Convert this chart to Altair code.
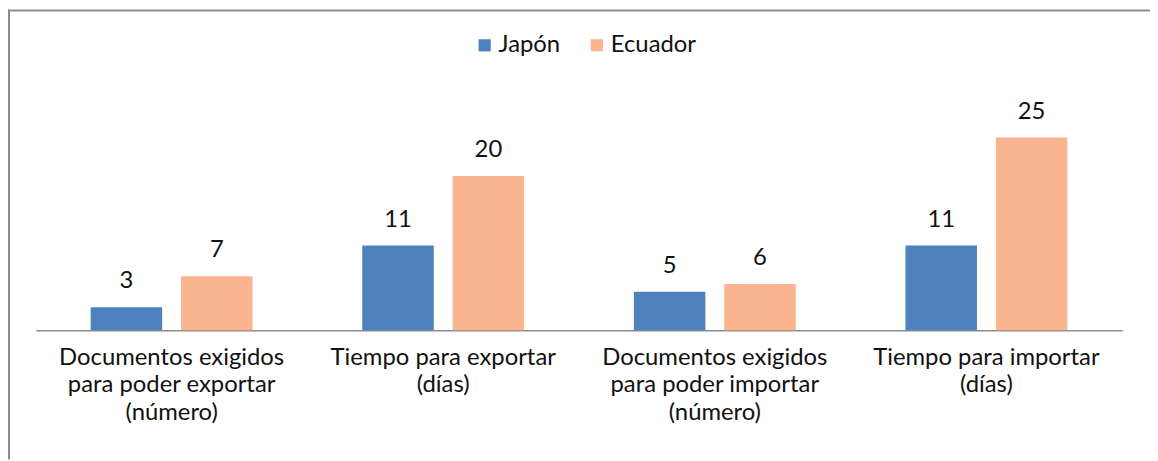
import altair as alt
import pandas as pd

categories = [
    "Documentos exigidos\npara poder exportar\n(número)",
    "Tiempo para exportar\n(días)",
    "Documentos exigidos\npara poder importar\n(número)",
    "Tiempo para importar\n(días)",
]
series = ["Japón", "Ecuador"]
japon = [3, 11, 5, 11]
ecuador = [7, 20, 6, 25]
colors = ["#4F81BD", "#F9B58F"]

rows = []
for c, j, e in zip(categories, japon, ecuador):
    rows.append({"cat": c, "serie": "Japón", "valor": j})
    rows.append({"cat": c, "serie": "Ecuador", "valor": e})
df = pd.DataFrame(rows)

FONT = "Lato"
W, H = 1094, 272

base = alt.Chart(df).encode(
    x=alt.X("cat:N", sort=categories,
            scale=alt.Scale(paddingInner=0, paddingOuter=0),
            axis=alt.Axis(title=None, labelAngle=0, ticks=False,
                          domainColor="#8c8c8c", domainWidth=1.5,
                          labelFont=FONT, labelFontSize=24, labelColor="#111111",
                          labelPadding=34, labelLineHeight=28, labelLimit=0,
                          labelBaseline="alphabetic",
                          labelExpr="split(datum.label, '\\n')")),
    xOffset=alt.XOffset("serie:N", sort=series,
                        scale=alt.Scale(paddingInner=0.209, paddingOuter=0.607)),
    y=alt.Y("valor:Q", scale=alt.Scale(domain=[0, 35]), axis=None),
)

bars = base.mark_bar().encode(
    color=alt.Color("serie:N", sort=series,
                    scale=alt.Scale(domain=series, range=colors),
                    legend=alt.Legend(title=None, orient="none", direction="horizontal",
                                      legendX=440, legendY=-27,
                                      symbolType="square", symbolSize=150,
                                      symbolStrokeWidth=0,
                                      labelFont=FONT, labelFontSize=24,
                                      labelColor="#111111", columnPadding=24,
                                      labelOffset=2)),
)

labels = base.mark_text(baseline="bottom", dy=-14, font=FONT, fontSize=24,
                        color="#111111").encode(text="valor:Q")

frame = alt.Chart(alt.Data(values=[{}]))
left_line = frame.mark_rule(color="#8c8c8c", strokeWidth=2).encode(
    x=alt.value(-27), y=alt.value(-51), y2=alt.value(H + 130))
top_line = frame.mark_rule(color="#8c8c8c", strokeWidth=2).encode(
    y=alt.value(-50), x=alt.value(-28), x2=alt.value(W + 28))

chart = alt.layer(bars, labels, left_line, top_line).properties(
    width=W, height=H,
    background="white",
    autosize=alt.AutoSizeParams(type="none"),
    padding={"left": 28, "top": 51, "right": 28, "bottom": 130},
).configure_view(stroke=None)

chart.save("out.html", embed_options={"renderer": "svg", "actions": False})
